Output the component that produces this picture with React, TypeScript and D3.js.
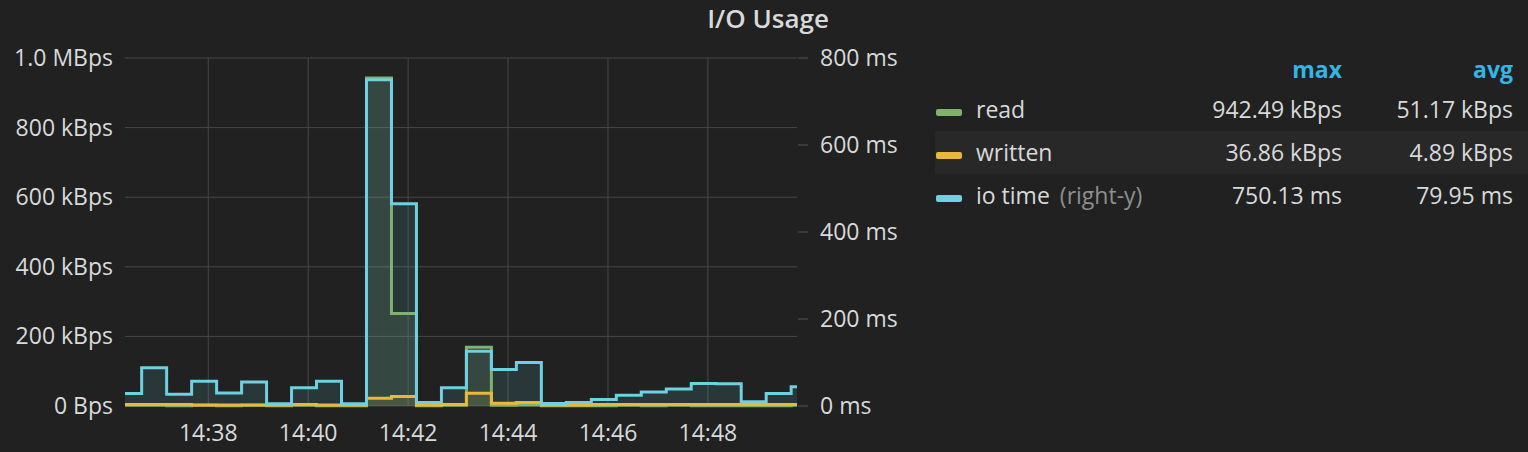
import * as d3 from "d3";
import React from "react";

// step samples every 30s starting 14:36:10
const startTime = new Date(2024, 0, 1, 14, 36, 10);
const readKBps = [2, 2, 1, 2, 1, 2, 1, 2, 1, 1, 942.49, 266, 1, 2, 169, 2, 3, 1, 1, 1, 2, 1, 2, 1, 1, 1, 1, 2];
const writtenKBps = [4, 4, 4, 3, 3, 3, 3, 4, 3, 3, 22, 27, 3, 4, 36.86, 8, 10, 3, 3, 4, 4, 4, 4, 4, 4, 4, 4, 4];
const ioTimeMs = [29, 88, 27, 57, 30, 55, 5, 42, 57, 5, 750.13, 465, 8, 42, 126, 84, 100, 6, 8, 15, 25, 32, 39, 52, 51, 10, 29, 44];

const leftTicks = [0, 200, 400, 600, 800, 1000];
const leftTickLabels = ["0 Bps", "200 kBps", "400 kBps", "600 kBps", "800 kBps", "1.0 MBps"];
const rightTicks = [0, 200, 400, 600, 800];
const timeTicks = ["14:38", "14:40", "14:42", "14:44", "14:46", "14:48"];

const seriesNames = ["read", "written", "io time"];
const seriesColors = ["#7eb26d", "#eab839", "#6ed0e0"];
const seriesMax = ["942.49 kBps", "36.86 kBps", "750.13 ms"];
const seriesAvg = ["51.17 kBps", "4.89 kBps", "79.95 ms"];

const W = 1528;
const H = 452;
const plot = { left: 125, right: 797, top: 58, bottom: 406 };
const font = "'Open Sans', sans-serif";
const textColor = "#d8d9da";

export default function App() {
  const x = d3
    .scaleTime()
    .domain([new Date(2024, 0, 1, 14, 36, 20), new Date(2024, 0, 1, 14, 49, 47)])
    .range([plot.left, plot.right]);
  const yLeft = d3.scaleLinear().domain([0, 1000]).range([plot.bottom, plot.top]);
  const yRight = d3.scaleLinear().domain([0, 800]).range([plot.bottom, plot.top]);

  const times = d3.range(readKBps.length + 1).map((i) => d3.timeSecond.offset(startTime, i * 30));
  const withEnd = (vals: number[]) => [...vals, vals[vals.length - 1]];

  const series = [
    { values: withEnd(readKBps), y: yLeft },
    { values: withEnd(writtenKBps), y: yLeft },
    { values: withEnd(ioTimeMs), y: yRight },
  ];

  const parseTick = (s: string) => {
    const [h, m] = s.split(":").map(Number);
    return new Date(2024, 0, 1, h, m, 0);
  };

  return (
    <svg width={W} height={H} style={{ position: "absolute", left: 0, top: 0, fontFamily: font }}>
      <rect width={W} height={H} fill="#212121" />
      <defs>
        <clipPath id="plotclip">
          <rect x={plot.left} y={plot.top - 10} width={plot.right - plot.left} height={plot.bottom - plot.top + 12} />
        </clipPath>
      </defs>

      <text x={768} y={28} textAnchor="middle" fontSize={26} fill={textColor} fontWeight={600}>
        I/O Usage
      </text>

      {/* grid */}
      {leftTicks.map((t) => (
        <line key={`h${t}`} x1={plot.left} x2={plot.right} y1={yLeft(t)} y2={yLeft(t)} stroke="#474747" strokeWidth={1} />
      ))}
      {timeTicks.map((t) => (
        <line key={`v${t}`} x1={x(parseTick(t))} x2={x(parseTick(t))} y1={plot.top} y2={plot.bottom} stroke="#474747" strokeWidth={1} />
      ))}

      {/* left axis */}
      {leftTicks.map((t, i) => (
        <text key={`l${t}`} x={113} y={yLeft(t) + 8} textAnchor="end" fontSize={23} fill={textColor}>
          {leftTickLabels[i]}
        </text>
      ))}
      {/* right axis */}
      {rightTicks.map((t) => (
        <g key={`r${t}`}>
          <line x1={798} x2={808} y1={yRight(t)} y2={yRight(t)} stroke="#555" strokeWidth={1} />
          <text x={820} y={yRight(t) + 8} fontSize={23} fill={textColor}>
            {`${t} ms`}
          </text>
        </g>
      ))}
      {/* x axis */}
      {timeTicks.map((t) => (
        <text key={`x${t}`} x={x(parseTick(t))} y={441} textAnchor="middle" fontSize={23} fill={textColor}>
          {t}
        </text>
      ))}

      <g clipPath="url(#plotclip)">
        {series.map((s, k) => {
          const area = d3
            .area<number>()
            .curve(d3.curveStepAfter)
            .x((_, i) => x(times[i]))
            .y0(plot.bottom)
            .y1((d) => s.y(d));
          return <path key={`a${k}`} d={area(s.values) || ""} fill={seriesColors[k]} fillOpacity={0.13} />;
        })}
        {series.map((s, k) => {
          const line = d3
            .line<number>()
            .curve(d3.curveStepAfter)
            .x((_, i) => x(times[i]))
            .y((d) => s.y(d));
          return (
            <path key={`l${k}`} d={line(s.values) || ""} fill="none" stroke={seriesColors[k]} strokeWidth={3} strokeLinejoin="miter" />
          );
        })}
      </g>

      {/* legend */}
      <rect x={935} y={131} width={W - 935} height={43} fill="#292828" />
      <text x={1342} y={78} textAnchor="end" fontSize={23} fontWeight={700} fill="#33b5e5">max</text>
      <text x={1513} y={78} textAnchor="end" fontSize={23} fontWeight={700} fill="#33b5e5">avg</text>
      {seriesNames.map((name, i) => {
        const base = 118 + i * 43;
        return (
          <g key={name}>
            <rect x={936} y={base - 9} width={26} height={7} rx={2} fill={seriesColors[i]} />
            <text x={976} y={base} fontSize={23} fill={textColor}>
              {name}
              {i === 2 ? (
                <tspan fill="#8e8e8e" dx={10}>(right-y)</tspan>
              ) : null}
            </text>
            <text x={1342} y={base} textAnchor="end" fontSize={23} fill={textColor}>{seriesMax[i]}</text>
            <text x={1513} y={base} textAnchor="end" fontSize={23} fill={textColor}>{seriesAvg[i]}</text>
          </g>
        );
      })}
    </svg>
  );
}
